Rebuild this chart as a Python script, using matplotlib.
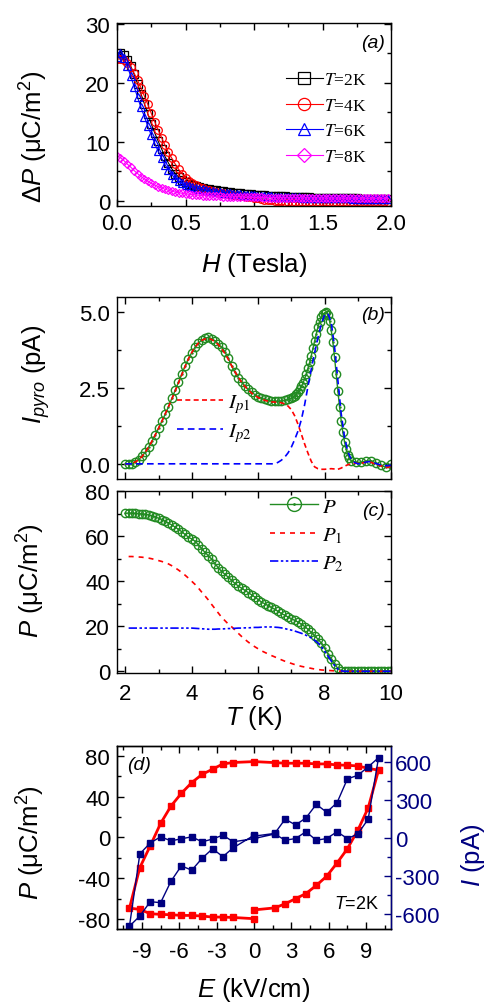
import matplotlib
matplotlib.use("Agg")
import matplotlib.pyplot as plt
from matplotlib.ticker import MultipleLocator, FormatStrFormatter
from matplotlib.font_manager import FontProperties
from matplotlib.legend_handler import HandlerTuple
from matplotlib.lines import Line2D

plt.rcParams['font.family'] = 'Liberation Sans'
plt.rcParams['mathtext.fontset'] = 'custom'
plt.rcParams['mathtext.rm'] = 'Liberation Sans'
plt.rcParams['mathtext.it'] = 'Liberation Sans:italic'
plt.rcParams['mathtext.bf'] = 'Liberation Sans:bold'
plt.rcParams['axes.linewidth'] = 1.0
plt.rcParams['axes.unicode_minus'] = False

# ---- (a) Delta P vs H ----
H = [0.000, 0.025, 0.050, 0.075, 0.100, 0.125, 0.150, 0.175, 0.200, 0.225,
     0.250, 0.275, 0.300, 0.325, 0.350, 0.375, 0.400, 0.425, 0.450, 0.475,
     0.500, 0.525, 0.550, 0.575, 0.600, 0.625, 0.650, 0.675, 0.700, 0.725,
     0.750, 0.775, 0.800, 0.825, 0.850, 0.875, 0.900, 0.925, 0.950, 0.975,
     1.000, 1.025, 1.050, 1.075, 1.100, 1.125, 1.150, 1.175, 1.200, 1.225,
     1.250, 1.275, 1.300, 1.325, 1.350, 1.375, 1.400, 1.425, 1.450, 1.475,
     1.500, 1.525, 1.550, 1.575, 1.600, 1.625, 1.650, 1.675, 1.700, 1.725,
     1.750, 1.775, 1.800, 1.825, 1.850, 1.875, 1.900, 1.925, 1.950, 1.975]
dP_2K = [25.0, 25.1, 24.6, 23.8, 22.8, 21.4, 19.8, 18.1, 16.4, 14.7,
         13.0, 11.5, 10.1, 8.8, 7.5, 6.4, 5.4, 4.6, 4.0, 3.5,
         3.1, 2.85, 2.6, 2.42, 2.3, 2.18, 2.06, 1.95, 1.85, 1.76,
         1.67, 1.59, 1.51, 1.44, 1.37, 1.31, 1.25, 1.19, 1.13, 1.08,
         1.03, 0.99, 0.95, 0.91, 0.87, 0.84, 0.81, 0.78, 0.75, 0.72,
         0.69, 0.67, 0.64, 0.62, 0.60, 0.58, 0.56, 0.54, 0.52, 0.51,
         0.49, 0.48, 0.46, 0.45, 0.44, 0.43, 0.42, 0.41, 0.40, 0.39,
         0.38, 0.37, 0.36, 0.35, 0.35, 0.34, 0.33, 0.33, 0.32, 0.32]
dP_4K = [24.0, 24.0, 23.8, 23.3, 22.6, 21.6, 20.4, 19.1, 17.7, 16.3,
         14.8, 13.4, 12.0, 10.7, 9.4, 8.2, 7.2, 6.2, 5.3, 4.6,
         3.9, 3.4, 2.95, 2.6, 2.3, 2.07, 1.88, 1.73, 1.6, 1.49,
         1.39, 1.3, 1.2, 1.11, 1.02, 0.93, 0.84, 0.75, 0.65, 0.56,
         0.47, 0.38, 0.29, 0.2, 0.12, 0.05, -0.01, -0.06, -0.11, -0.15,
         -0.18, -0.21, -0.23, -0.25, -0.26, -0.27, -0.28, -0.29, -0.29, -0.29,
         -0.3, -0.3, -0.3, -0.3, -0.3, -0.3, -0.3, -0.3, -0.3, -0.3,
         -0.3, -0.3, -0.3, -0.3, -0.3, -0.3, -0.3, -0.3, -0.3, -0.3]
dP_6K = [24.4, 25.0, 24.2, 22.8, 21.1, 19.3, 17.5, 15.8, 14.2, 12.6,
         11.1, 9.7, 8.4, 7.2, 6.1, 5.2, 4.4, 3.8, 3.3, 2.95,
         2.7, 2.5, 2.33, 2.18, 2.05, 1.93, 1.82, 1.72, 1.62, 1.53,
         1.45, 1.38, 1.31, 1.25, 1.19, 1.13, 1.08, 1.03, 0.98, 0.94,
         0.9, 0.86, 0.82, 0.79, 0.76, 0.73, 0.7, 0.68, 0.66, 0.63,
         0.61, 0.59, 0.57, 0.55, 0.53, 0.52, 0.5, 0.49, 0.48, 0.46,
         0.45, 0.44, 0.43, 0.42, 0.41, 0.4, 0.39, 0.38, 0.38, 0.37,
         0.36, 0.36, 0.35, 0.35, 0.34, 0.34, 0.33, 0.33, 0.32, 0.32]
dP_8K = [7.6, 7.3, 6.8, 6.2, 5.7, 5.1, 4.6, 4.1, 3.7, 3.3,
         2.95, 2.65, 2.4, 2.15, 1.95, 1.77, 1.61, 1.47, 1.35, 1.25,
         1.16, 1.09, 1.02, 0.96, 0.91, 0.87, 0.83, 0.8, 0.77, 0.74,
         0.72, 0.7, 0.68, 0.66, 0.64, 0.63, 0.61, 0.6, 0.59, 0.58,
         0.57, 0.56, 0.55, 0.54, 0.54, 0.53, 0.52, 0.52, 0.51, 0.5,
         0.5, 0.49, 0.49, 0.48, 0.48, 0.47, 0.47, 0.46, 0.46, 0.46,
         0.45, 0.45, 0.45, 0.44, 0.44, 0.44, 0.43, 0.43, 0.43, 0.43,
         0.42, 0.42, 0.42, 0.42, 0.41, 0.41, 0.41, 0.41, 0.4, 0.4]

# ---- (b) pyroelectric current ----
T_b = [2.0, 2.1, 2.2, 2.3, 2.4, 2.5, 2.6, 2.7, 2.8, 2.9, 3.0, 3.1, 3.2, 3.3, 3.4,
       3.5, 3.6, 3.7, 3.8, 3.9, 4.0, 4.1, 4.2, 4.3, 4.4, 4.5, 4.6, 4.7, 4.8, 4.9,
       5.0, 5.1, 5.2, 5.3, 5.4, 5.5, 5.6, 5.7, 5.8, 5.9, 6.0, 6.1, 6.2, 6.3, 6.4,
       6.5, 6.6, 6.7, 6.8, 6.9, 7.0, 7.05, 7.1, 7.15, 7.2, 7.25, 7.3, 7.35, 7.4, 7.45,
       7.5, 7.55, 7.6, 7.65, 7.7, 7.75, 7.8, 7.85, 7.9, 7.95, 8.0, 8.05, 8.1, 8.15,
       8.2, 8.25, 8.3, 8.35, 8.4, 8.45, 8.5, 8.55, 8.6, 8.65, 8.7, 8.75, 8.8,
       8.95, 9.1, 9.25, 9.4, 9.55, 9.7, 9.85, 10.0]
I_pyro = [0.0, -0.02, 0.0, 0.06, 0.14, 0.25, 0.38, 0.55, 0.74, 0.95, 1.17, 1.40, 1.63, 1.88, 2.15,
          2.42, 2.68, 2.96, 3.22, 3.46, 3.66, 3.84, 3.97, 4.07, 4.14, 4.16, 4.12, 4.05, 3.95, 3.83,
          3.68, 3.48, 3.22, 3.02, 2.84, 2.69, 2.56, 2.45, 2.36, 2.28, 2.21, 2.16, 2.12, 2.09, 2.07,
          2.06, 2.06, 2.07, 2.09, 2.12, 2.16, 2.20, 2.24, 2.30, 2.37, 2.45, 2.55, 2.66, 2.80, 2.96,
          3.14, 3.34, 3.56, 3.80, 4.04, 4.28, 4.50, 4.68, 4.82, 4.92, 4.97, 4.98, 4.90, 4.70,
          4.40, 4.00, 3.50, 2.95, 2.40, 1.88, 1.42, 1.04, 0.72, 0.48, 0.30, 0.18, 0.10,
          0.05, 0.05, 0.09, 0.10, 0.03, -0.05, -0.12, -0.02]
T_p1 = [2.0, 2.1, 2.2, 2.3, 2.4, 2.5, 2.6, 2.7, 2.8, 2.9, 3.0, 3.1, 3.2, 3.3, 3.4,
        3.5, 3.6, 3.7, 3.8, 3.9, 4.0, 4.1, 4.2, 4.3, 4.4, 4.5, 4.6, 4.7, 4.8, 4.9,
        5.0, 5.1, 5.2, 5.3, 5.4, 5.5, 5.6, 5.7, 5.8, 5.9, 6.0, 6.1, 6.2, 6.3, 6.4,
        6.5, 6.6, 6.7, 6.8, 6.9, 7.0, 7.1, 7.2, 7.3, 7.4, 7.5, 7.6, 7.7, 7.8, 7.9,
        8.0, 8.1, 8.2, 8.3, 8.4, 8.5, 8.6, 8.7, 8.8, 8.9, 9.0, 9.1, 9.2, 9.3, 9.4,
        9.5, 9.6, 9.7, 9.8, 9.9, 10.0]
I_p1 = [0.0, 0.0, 0.02, 0.06, 0.13, 0.24, 0.38, 0.55, 0.74, 0.95, 1.17, 1.40, 1.64, 1.88, 2.13,
        2.39, 2.66, 2.93, 3.20, 3.45, 3.66, 3.84, 3.97, 4.06, 4.11, 4.12, 4.09, 4.02, 3.92, 3.79,
        3.63, 3.44, 3.23, 3.03, 2.85, 2.69, 2.55, 2.43, 2.33, 2.25, 2.18, 2.13, 2.09, 2.06, 2.04,
        2.03, 2.02, 2.01, 1.97, 1.90, 1.78, 1.58, 1.30, 0.98, 0.65, 0.35, 0.08, -0.10, -0.16, -0.18,
        -0.18, -0.17, -0.16, -0.17, -0.18, -0.14, -0.08, -0.03, 0.0, 0.02, 0.02, 0.02, 0.04, 0.06, 0.05,
        0.0, -0.04, -0.07, -0.10, -0.12, -0.08]
T_p2 = [2.0, 6.5, 6.6, 6.7, 6.8, 6.9, 7.0, 7.1, 7.2, 7.3, 7.4, 7.5, 7.6, 7.7, 7.8, 7.9,
        8.0, 8.1, 8.2, 8.3, 8.4, 8.5, 8.6, 8.7, 8.8, 8.9, 9.0, 9.1, 9.2, 9.3, 9.4,
        9.5, 9.6, 9.7, 9.8, 9.9, 10.0]
I_p2 = [0.0, 0.0, 0.05, 0.12, 0.22, 0.36, 0.55, 0.80, 1.08, 1.45, 1.95, 2.55, 3.12, 3.65, 4.15, 4.60,
        4.90, 4.95, 4.65, 3.85, 2.75, 1.65, 0.88, 0.40, 0.15, 0.05, 0.0, 0.0, 0.04, 0.07, 0.07,
        0.03, -0.01, -0.04, -0.06, -0.06, -0.05]

# ---- (c) polarization ----
T_c = T_p1
P_tot = [70.2, 70.3, 70.3, 70.2, 70.1, 70.0, 69.8, 69.5, 69.1, 68.6, 68.0, 67.4, 66.7, 65.9, 65.0,
         64.1, 63.1, 62.0, 60.8, 59.6, 58.8, 57.8, 56.2, 54.5, 52.8, 51.4, 49.8, 47.8, 46.0, 44.4,
         43.1, 41.8, 40.4, 39.1, 37.9, 36.9, 36.0, 35.0, 34.0, 33.0, 31.9, 30.8, 30.0, 29.2, 28.4,
         27.5, 26.6, 25.7, 24.9, 24.1, 23.4, 22.6, 21.9, 21.0, 19.9, 18.7, 17.3, 15.8, 14.3, 12.6,
         10.3, 7.8, 5.5, 3.3, 1.3, 0.3, 0.0, 0.1, 0.2, 0.2, 0.1, 0.1, 0.2, 0.3, 0.2,
         0.1, 0.1, 0.2, 0.2, 0.3, 0.3]
T_P1 = [2.1, 2.2, 2.3, 2.4, 2.5, 2.6, 2.7, 2.8, 2.9, 3.0, 3.1, 3.2, 3.3, 3.4,
        3.5, 3.6, 3.7, 3.8, 3.9, 4.0, 4.1, 4.2, 4.3, 4.4, 4.5, 4.6, 4.7, 4.8, 4.9,
        5.0, 5.1, 5.2, 5.3, 5.4, 5.5, 5.6, 5.7, 5.8, 5.9, 6.0, 6.1, 6.2, 6.3, 6.4,
        6.5, 6.6, 6.7, 6.8, 6.9, 7.0, 7.1, 7.2, 7.3, 7.4, 7.5, 7.6, 7.7, 7.8, 7.9,
        8.0, 8.1, 8.2, 8.3, 8.4, 8.5, 10.0]
P_1 = [51.0, 51.0, 50.9, 50.8, 50.7, 50.5, 50.3, 50.0, 49.6, 49.2, 48.8, 48.3, 47.7, 46.9,
       46.0, 45.0, 43.9, 42.7, 41.4, 40.0, 38.6, 37.0, 35.2, 33.5, 31.7, 29.7, 27.8, 25.9, 24.0,
       22.5, 21.0, 19.8, 18.4, 16.9, 15.5, 14.2, 13.0, 11.9, 10.9, 10.0, 9.1, 8.4, 7.7, 7.0,
       6.4, 5.7, 5.1, 4.5, 4.0, 3.5, 3.0, 2.6, 2.2, 1.9, 1.6, 1.3, 1.0, 0.8, 0.6,
       0.5, 0.4, 0.3, 0.2, 0.1, 0.0, 0.0]
T_P2 = [2.1, 4.0, 4.1, 4.2, 4.3, 4.4, 4.5, 4.6, 4.7, 4.8, 4.9,
        5.0, 5.1, 5.2, 5.3, 5.4, 5.5, 5.6, 5.7, 5.8, 5.9, 6.0, 6.1, 6.2, 6.3, 6.4,
        6.5, 6.6, 6.7, 6.8, 6.9, 7.0, 7.1, 7.2, 7.3, 7.4, 7.5, 7.6, 7.7, 7.8, 7.9,
        8.0, 8.1, 8.2, 8.3, 8.4, 8.5, 8.6, 10.0]
P_2 = [19.2, 19.2, 19.1, 19.0, 18.9, 18.8, 18.7, 18.7, 18.7, 18.8, 18.8,
       18.9, 19.0, 19.0, 19.1, 19.2, 19.2, 19.3, 19.3, 19.4, 19.5, 19.5, 19.6, 19.7, 19.7, 19.7,
       19.6, 19.5, 19.3, 19.0, 18.6, 18.3, 17.9, 17.4, 16.9, 16.3, 15.6, 14.8, 13.8, 12.6, 11.0,
       9.0, 6.8, 4.6, 2.6, 1.0, 0.2, 0.0, 0.0]

# ---- (d) P-E loop and current ----
E_loop = [0, 1.667, 2.5, 3.333, 4.167, 5, 5.833, 6.667, 7.5, 8.333, 9.167, 10,
          9.167, 8.333, 7.5, 6.667, 5.833, 5, 4.167, 3.333, 2.5, 1.667, 0,
          -1.667, -2.5, -3.333, -4.167, -5, -5.833, -6.667, -7.5, -8.333, -9.167, -10,
          -9.167, -8.333, -7.5, -6.667, -5.833, -5, -4.167, -3.333, -2.5, -1.667, 0]
P_loop = [-71, -69, -65, -60, -55, -47, -38, -25, -11, 7, 29, 66,
          67.8, 70.1, 70.8, 71.1, 72.1, 72.1, 72.8, 72.8, 72.8, 73.4, 74.4,
          73.5, 72.1, 66.9, 61.9, 53.8, 43.3, 30.8, 13.8, -8.2, -29.5, -69.2,
          -70.5, -74.7, -75.4, -75.7, -76.4, -76.4, -77, -78, -78, -78.4, -79.6]
I_loop = [13, 35, 148, 102, 157, 265, 203, 278, 467, 495, 562, 635,
          148, 30, -6, 48, -6, -19, 48, -6, -19, 30, -6,
          -32, 21, -10, -32, 8, -8, -24, 8, -41, -127, -700,
          -620, -506, -514, -344, -222, -257, -162, -87, -149, -79, 20]

green = '#228b22'
navy = '#000080'
TICK = 16
LAB = 18.5
serif_prop = FontProperties(family='Liberation Serif', size=12.5, math_fontfamily='stix')
serif_big = FontProperties(family='Liberation Serif', size=15, math_fontfamily='stix')


def style(ax, xmaj, xmin, ymaj, ymin, right=True):
    ax.xaxis.set_major_locator(MultipleLocator(xmaj))
    ax.xaxis.set_minor_locator(MultipleLocator(xmin))
    ax.yaxis.set_major_locator(MultipleLocator(ymaj))
    ax.yaxis.set_minor_locator(MultipleLocator(ymin))
    ax.tick_params(which='both', direction='in', top=True, right=right, labelsize=TICK, width=1)
    ax.tick_params(which='major', length=5)
    ax.tick_params(which='minor', length=3)
    ax.tick_params(axis='y', pad=5)


fig = plt.figure(figsize=(4.95, 10.04), dpi=100)
axa = fig.add_axes([0.2364, 0.7938, 0.5535, 0.1823])
axb = fig.add_axes([0.2364, 0.5219, 0.5535, 0.1816])
axc = fig.add_axes([0.2364, 0.3287, 0.5535, 0.1810])
axd = fig.add_axes([0.2364, 0.0734, 0.5535, 0.1829])

# (a)
mk = dict(mfc='none', lw=0.8, mew=0.9, ms=5.5)
axa.plot(H, dP_2K, color='black', marker='s', label='$T$=2K', **mk)
axa.plot(H, dP_4K, color='red', marker='o', label='$T$=4K', **mk)
axa.plot(H, dP_6K, color='blue', marker='^', label='$T$=6K', **mk)
axa.plot(H, dP_8K, color='magenta', marker='D', label='$T$=8K', mfc='none', lw=0.8, mew=0.9, ms=4.5)
axa.set_xlim(0, 2)
axa.set_ylim(-0.9, 30.1)
style(axa, 0.5, 0.25, 10, 5)
axa.tick_params(axis='x', pad=5)
axa.set_xlabel('$\\mathit{H}$ (Tesla)', fontsize=LAB, va='center')
axa.xaxis.set_label_coords(0.5, -0.317)
axa.set_ylabel('$\\mathit{\u0394P}$ (\u03bcC/m$^2$)', fontsize=LAB, va='center')
axa.yaxis.set_label_coords(-0.303, 0.385)
axa.text(0.935, 0.895, '(a)', transform=axa.transAxes, fontsize=14, style='italic',
         ha='center', va='center')
axa.legend(loc='upper left', bbox_to_anchor=(0.617, 0.733), frameon=False, prop=serif_prop,
           markerscale=1.6, handlelength=2.1, handletextpad=0.1, labelspacing=0.55,
           borderpad=0, borderaxespad=0)

# (b)
axb.plot(T_b, I_pyro, color=green, lw=1.0, marker='o', mfc='none', mew=1.0, ms=6)
axb.plot(T_b, I_pyro, color=green, lw=0, marker='.', ms=1.5)
axb.plot(T_p1, I_p1, color='red', lw=1.2, ls=(0, (3, 2)), label='$I_{\\mathit{p1}}$')
axb.plot(T_p2, I_p2, color='blue', lw=1.2, ls=(0, (4, 2.5)), label='$I_{\\mathit{p2}}$')
axb.set_xlim(1.75, 10)
axb.set_ylim(-0.5, 5.5)
style(axb, 2, 1, 2.5, 1.25)
axb.tick_params(axis='x', labelbottom=False)
axb.yaxis.set_major_formatter(FormatStrFormatter('%.1f'))
axb.set_ylabel('$I_{pyro}$ (pA)', fontsize=LAB, va='center')
axb.yaxis.set_label_coords(-0.295, 0.58)
axb.text(0.935, 0.905, '(b)', transform=axb.transAxes, fontsize=14, style='italic',
         ha='center', va='center')
axb.legend(loc='upper left', bbox_to_anchor=(0.219, 0.475), frameon=False, prop=serif_big,
           handlelength=2.2, handletextpad=0.26, labelspacing=0.26,
           borderpad=0, borderaxespad=0)

# (c)
axc.plot(T_c, P_tot, color=green, lw=1.0, marker='o', mfc='none', mew=1.0, ms=6)
axc.plot(T_c, P_tot, color=green, lw=0, marker='.', ms=1.5)
hp1, = axc.plot(T_P1, P_1, color='red', lw=1.2, ls=(0, (3, 3)))
hp2, = axc.plot(T_P2, P_2, color='blue', lw=1.2, ls=(0, (5, 1.5, 1.5, 1.5, 1.5, 1.5)))
axc.set_xlim(1.75, 10)
axc.set_ylim(-0.75, 80)
style(axc, 2, 1, 20, 10)
axc.tick_params(axis='x', pad=7)
axc.set_xlabel('$\\mathit{T}$ (K)', fontsize=LAB, va='center')
axc.xaxis.set_label_coords(0.5, -0.242)
axc.set_ylabel('$\\mathit{P}$ (\u03bcC/m$^2$)', fontsize=LAB, va='center')
axc.yaxis.set_label_coords(-0.316, 0.514)
axc.text(0.935, 0.895, '(c)', transform=axc.transAxes, fontsize=14, style='italic',
         ha='center', va='center')
leg_big = Line2D([], [], color=green, lw=1.0, marker='o', mfc='none', mew=1.0, ms=10)
leg_dot = Line2D([], [], color=green, lw=0, marker='.', ms=2)
axc.legend([(leg_big, leg_dot), hp1, hp2], ['$P$', '$P_{\\mathit{1}}$', '$P_{\\mathit{2}}$'],
           handler_map={tuple: HandlerTuple(ndivide=1, pad=0)},
           loc='upper left', bbox_to_anchor=(0.558, 0.968), frameon=False, prop=serif_big,
           handlelength=2.3, handletextpad=0.2, labelspacing=0.42,
           borderpad=0, borderaxespad=0)

# (d)
axd.plot(E_loop, P_loop, color='red', lw=2.0, marker='s', ms=4.5, zorder=2)
axd.set_xlim(-11, 11)
axd.set_ylim(-90, 90)
style(axd, 3, 1.5, 40, 20, right=False)
axd.tick_params(axis='x', pad=8.5)
axd.set_xlabel('$\\mathit{E}$ (kV/cm)', fontsize=LAB, va='center')
axd.xaxis.set_label_coords(0.5, -0.325)
axd.set_ylabel('$\\mathit{P}$ (\u03bcC/m$^2$)', fontsize=LAB, va='center')
axd.yaxis.set_label_coords(-0.316, 0.478)
axd.text(0.08, 0.9, '(d)', transform=axd.transAxes, fontsize=14, style='italic',
         ha='center', va='center')
axd.text(0.876, 0.138, '$\\mathit{T}$=2K', transform=axd.transAxes, fontsize=13,
         ha='center', va='center')

ax2 = axd.twinx()
ax2.plot(E_loop, I_loop, color=navy, lw=1.0, marker='s', ms=4.5)
ax2.set_ylim(-725, 730)
ax2.yaxis.set_major_locator(MultipleLocator(300))
ax2.yaxis.set_minor_locator(MultipleLocator(150))
ax2.tick_params(which='both', direction='in', labelsize=TICK, colors=navy, width=1, pad=3)
ax2.tick_params(which='major', length=5)
ax2.tick_params(which='minor', length=3)
ax2.spines['right'].set_color(navy)
ax2.set_ylabel('$\\mathit{I}$ (pA)', fontsize=LAB, color=navy, va='center', rotation=90)
ax2.yaxis.set_label_coords(1.30, 0.41)

fig.savefig('out.png', dpi=100)
